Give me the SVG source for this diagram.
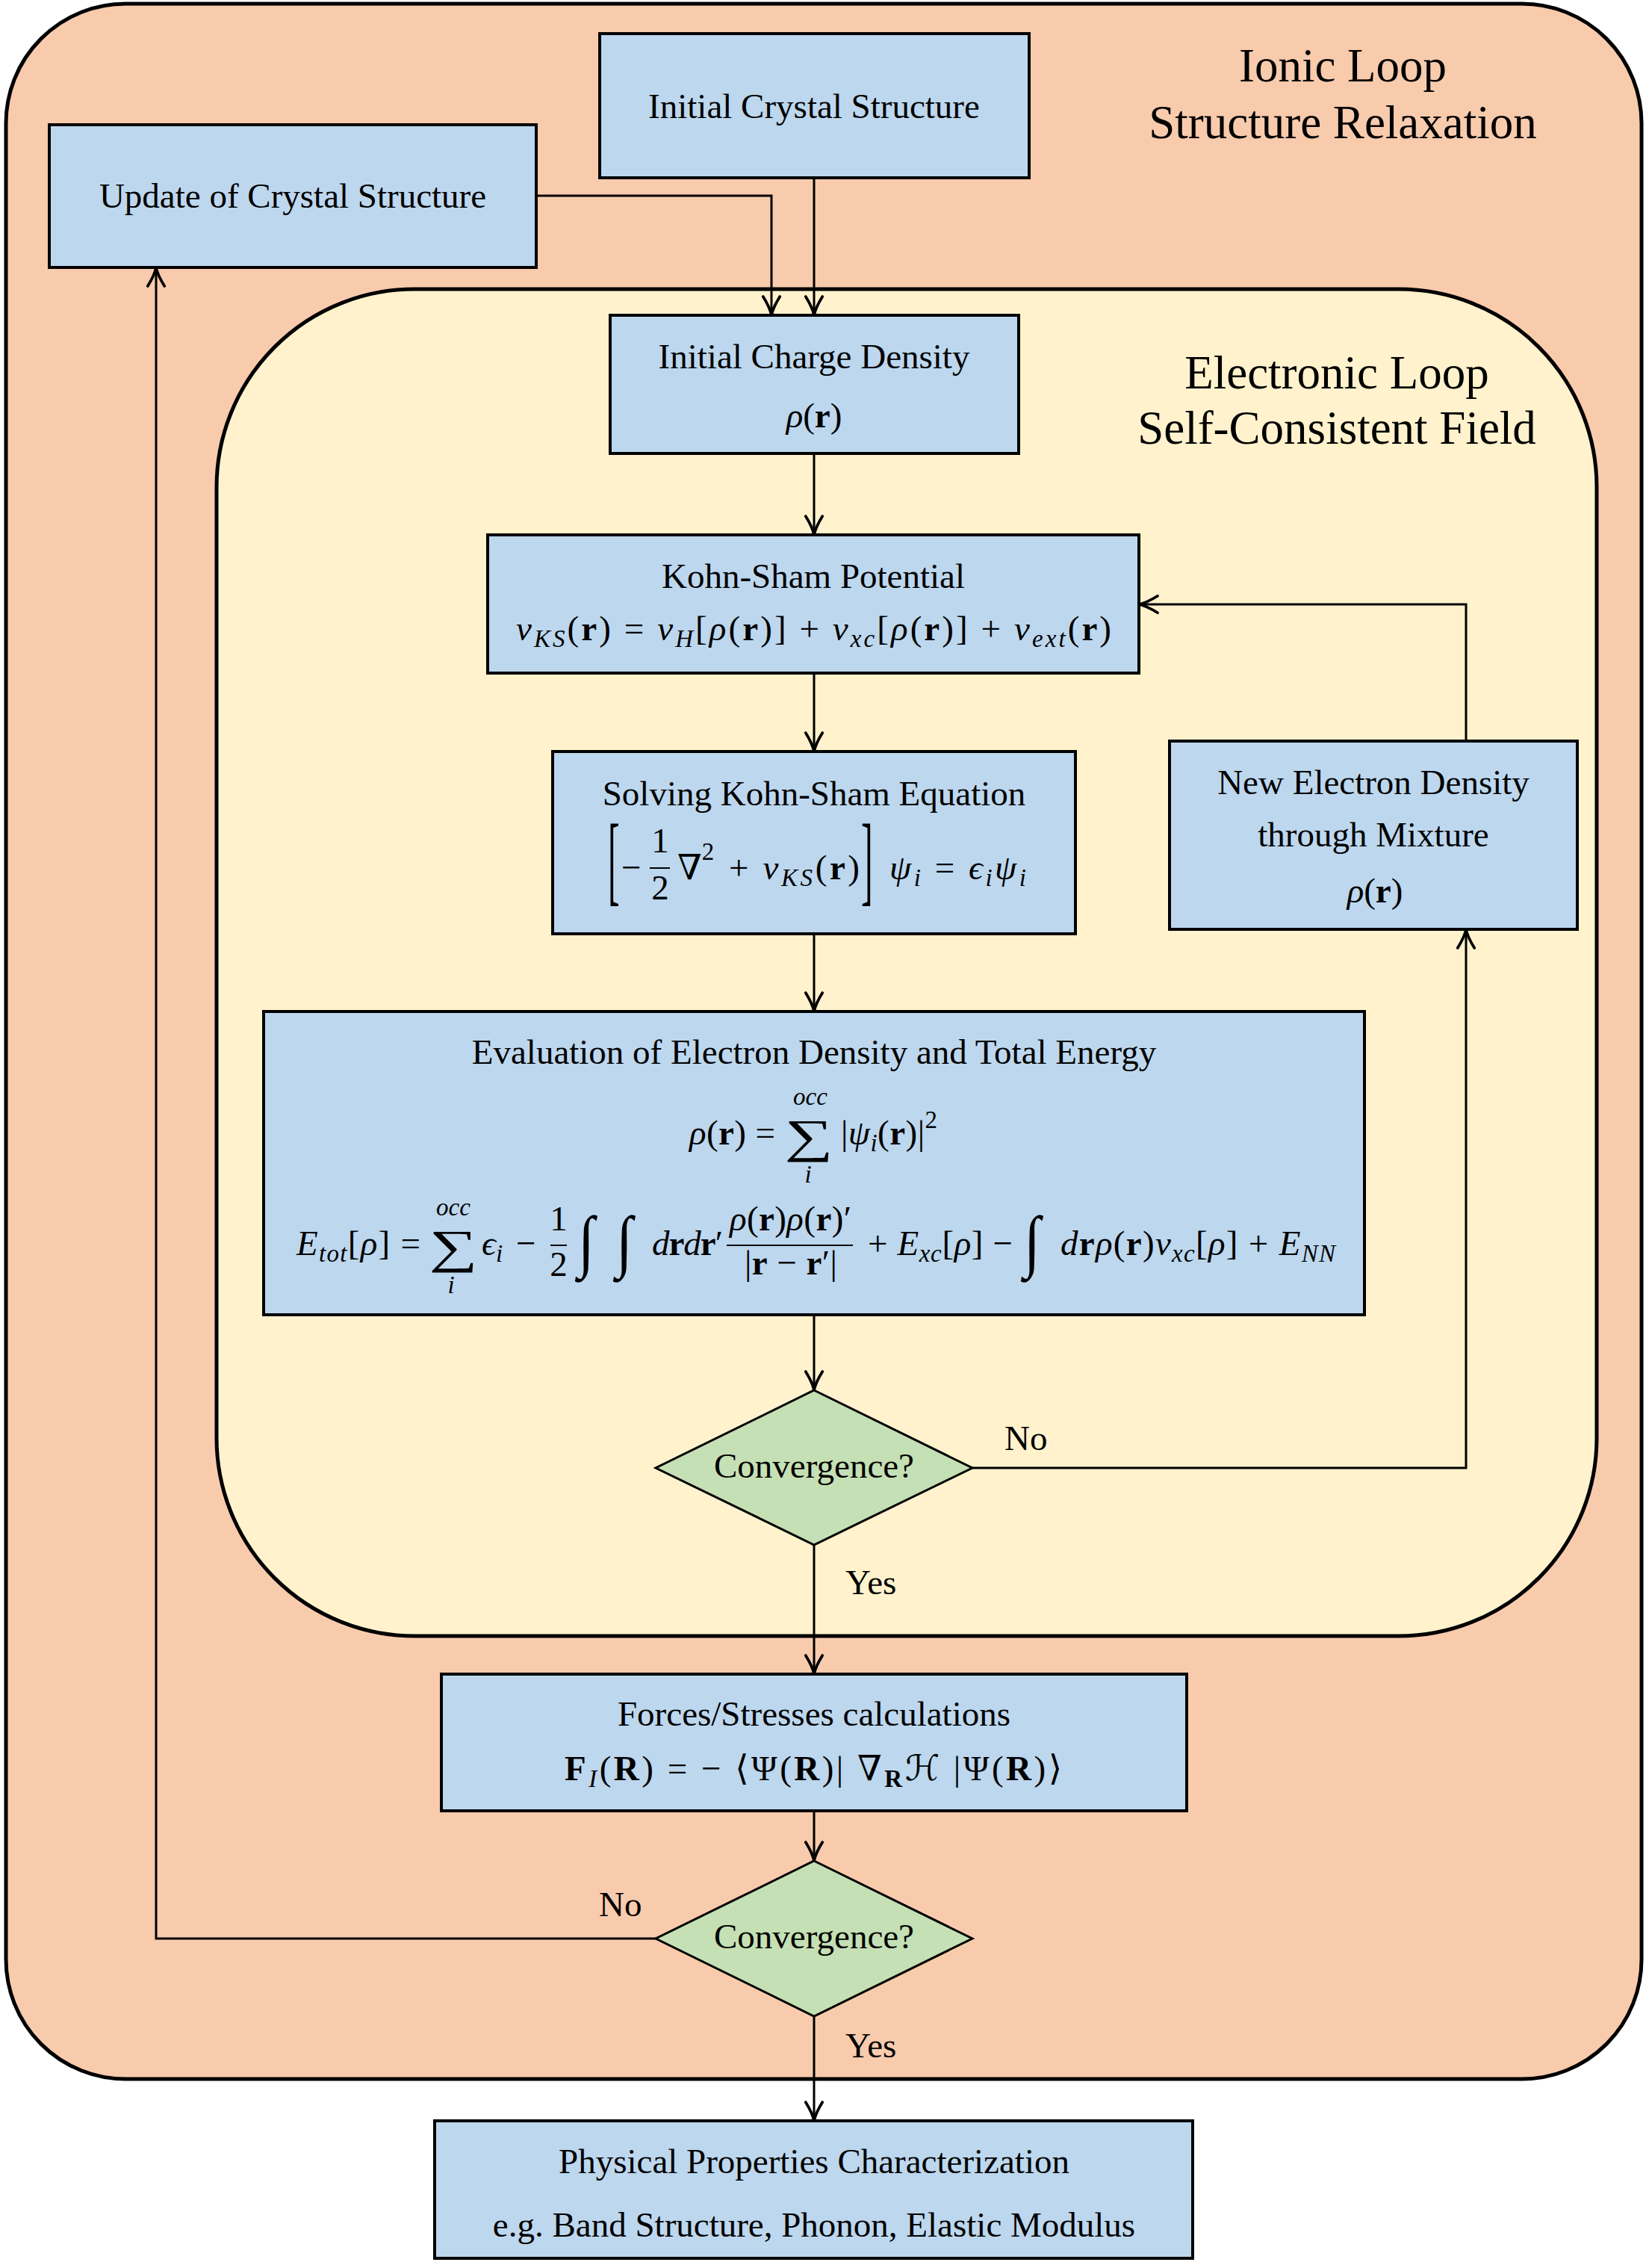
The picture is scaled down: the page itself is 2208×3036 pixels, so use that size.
<svg xmlns="http://www.w3.org/2000/svg" width="2208" height="3036" viewBox="0 0 2208 3036">
<defs>
<style>
.t{font-family:"Liberation Serif","Times New Roman",serif;font-size:47px;fill:#000}
.h{font-size:63px}
.m{font-family:"Liberation Serif","DejaVu Serif","DejaVu Sans",serif;font-size:47px;fill:#000}
.i{font-style:italic}
.b{font-weight:bold}
.s{font-size:33px}
.big{font-size:63px}
.box{fill:#BDD7EE;stroke:#000;stroke-width:4}
.dia{fill:#C5E0B4;stroke:#000;stroke-width:3}
.edge{fill:none;stroke:#000;stroke-width:3}
.rule{stroke:#000;stroke-width:2}
</style>
<marker id="arr" markerUnits="userSpaceOnUse" markerWidth="40" markerHeight="40" viewBox="-26 -16 32 32" refX="0" refY="0" orient="auto">
<path d="M-20,-9 C-12,-4 -5,-1 0,0 C-5,1 -12,4 -20,9" fill="none" stroke="#000" stroke-width="3" stroke-linecap="round"/>
</marker>
</defs>
<rect width="2208" height="3036" fill="#fff"/>

<g id="ionic-loop">
<rect x="8" y="5" width="2190" height="2778" rx="160" ry="160" fill="#F8CBAD" stroke="#000" stroke-width="5"/>
<text class="t h" x="1798" y="109" text-anchor="middle">Ionic Loop</text>
<text class="t h" x="1798" y="185" text-anchor="middle">Structure Relaxation</text>
</g>

<g id="electronic-loop">
<rect x="290" y="387" width="1848" height="1803" rx="265" ry="265" fill="#FFF2CC" stroke="#000" stroke-width="5"/>
<text class="t h" x="1790" y="520" text-anchor="middle">Electronic Loop</text>
<text class="t h" x="1790" y="594" text-anchor="middle">Self-Consistent Field</text>
</g>

<g id="edges">
<path class="edge" d="M1090,238 V422" marker-end="url(#arr)"/>
<path class="edge" d="M718,262 H1033 V422" marker-end="url(#arr)"/>
<path class="edge" d="M1090,607 V716" marker-end="url(#arr)"/>
<path class="edge" d="M1090,901 V1006" marker-end="url(#arr)"/>
<path class="edge" d="M1090,1250 V1354" marker-end="url(#arr)"/>
<path class="edge" d="M1090,1760 V1861" marker-end="url(#arr)"/>
<path class="edge" d="M1302,1965 H1963 V1244" marker-end="url(#arr)"/>
<path class="edge" d="M1963,992 V809 H1525" marker-end="url(#arr)"/>
<path class="edge" d="M1090,2068 V2241" marker-end="url(#arr)"/>
<path class="edge" d="M1090,2424 V2491" marker-end="url(#arr)"/>
<path class="edge" d="M878,2595 H209 V358" marker-end="url(#arr)"/>
<path class="edge" d="M1090,2699 V2839" marker-end="url(#arr)"/>
<text class="t" x="1345" y="1941">No</text>
<text class="t" x="1132" y="2134">Yes</text>
<text class="t" x="802" y="2565">No</text>
<text class="t" x="1132" y="2754">Yes</text>
</g>

<g id="initial-crystal">
<rect class="box" x="803" y="45" width="575" height="193"/>
<text class="t" x="1090" y="158" text-anchor="middle">Initial Crystal Structure</text>
</g>

<g id="update-crystal">
<rect class="box" x="66" y="167" width="652" height="191"/>
<text class="t" x="392" y="278" text-anchor="middle">Update of Crystal Structure</text>
</g>

<g id="initial-charge">
<rect class="box" x="817" y="422" width="547" height="185"/>
<text class="t" x="1090" y="493" text-anchor="middle">Initial Charge Density</text>
<text class="m" x="1090" y="572" text-anchor="middle"><tspan class="i">ρ</tspan>(<tspan class="b">r</tspan>)</text>
</g>

<g id="kohn-sham-potential">
<rect class="box" x="653" y="716" width="872" height="185"/>
<text class="t" x="1089" y="787" text-anchor="middle">Kohn-Sham Potential</text>
<text class="m" x="691" y="857" textLength="797" lengthAdjust="spacing"><tspan class="i">v</tspan><tspan class="i s" dy="9">KS</tspan><tspan dy="-9">(</tspan><tspan class="b">r</tspan>) = <tspan class="i">v</tspan><tspan class="i s" dy="9">H</tspan><tspan dy="-9">[</tspan><tspan class="i">ρ</tspan>(<tspan class="b">r</tspan>)] + <tspan class="i">v</tspan><tspan class="i s" dy="9">xc</tspan><tspan dy="-9">[</tspan><tspan class="i">ρ</tspan>(<tspan class="b">r</tspan>)] + <tspan class="i">v</tspan><tspan class="i s" dy="9">ext</tspan><tspan dy="-9">(</tspan><tspan class="b">r</tspan>)</text>
</g>

<g id="solving-kohn-sham">
<rect class="box" x="740" y="1006" width="700" height="244"/>
<text class="t" x="1090" y="1078" text-anchor="middle">Solving Kohn-Sham Equation</text>
<text class="m" transform="translate(814,1195) scale(1,2.84)">[</text>
<text class="m" x="832" y="1177">−</text>
<text class="m" x="884" y="1141" text-anchor="middle">1</text>
<line class="rule" x1="870" y1="1162" x2="897" y2="1162"/>
<text class="m" x="884" y="1204" text-anchor="middle">2</text>
<text class="m" x="907" y="1177">∇<tspan class="s" dy="-26">2</tspan></text>
<text class="m" x="976" y="1177" textLength="175" lengthAdjust="spacing">+ <tspan class="i">v</tspan><tspan class="i s" dy="9">KS</tspan><tspan dy="-9">(</tspan><tspan class="b">r</tspan>)</text>
<text class="m" transform="translate(1153,1195) scale(1,2.84)">]</text>
<text class="m" x="1191" y="1177" textLength="183" lengthAdjust="spacing"><tspan class="i">ψ</tspan><tspan class="i s" dy="9">i</tspan><tspan dy="-9"> = </tspan><tspan class="i">ϵ</tspan><tspan class="i s" dy="9">i</tspan><tspan class="i" dy="-9">ψ</tspan><tspan class="i s" dy="9">i</tspan></text>
</g>

<g id="new-electron-density">
<rect class="box" x="1566" y="992" width="546" height="252"/>
<text class="t" x="1839" y="1063" text-anchor="middle">New Electron Density</text>
<text class="t" x="1839" y="1133" text-anchor="middle">through Mixture</text>
<text class="m" x="1841" y="1208" text-anchor="middle"><tspan class="i">ρ</tspan>(<tspan class="b">r</tspan>)</text>
</g>

<g id="evaluation">
<rect class="box" x="353" y="1354" width="1474" height="406"/>
<text class="t" x="1090" y="1424" text-anchor="middle">Evaluation of Electron Density and Total Energy</text>
<text class="m" x="923" y="1532" textLength="115" lengthAdjust="spacing"><tspan class="i">ρ</tspan>(<tspan class="b">r</tspan>) =</text>
<text class="m big" transform="translate(1083,1542) scale(1.45,1)" text-anchor="middle">∑</text>
<text class="m i s" x="1085" y="1479" text-anchor="middle">occ</text>
<text class="m i s" x="1082" y="1583" text-anchor="middle">i</text>
<text class="m" x="1126" y="1532" textLength="129" lengthAdjust="spacing">|<tspan class="i">ψ</tspan><tspan class="i s" dy="9">i</tspan><tspan dy="-9">(</tspan><tspan class="b">r</tspan>)|<tspan class="s" dy="-22">2</tspan></text>

<text class="m" x="397" y="1680" textLength="166" lengthAdjust="spacing"><tspan class="i">E</tspan><tspan class="i s" dy="9">tot</tspan><tspan dy="-9">[</tspan><tspan class="i">ρ</tspan>] =</text>
<text class="m big" transform="translate(607,1690) scale(1.45,1)" text-anchor="middle">∑</text>
<text class="m i s" x="607" y="1627" text-anchor="middle">occ</text>
<text class="m i s" x="604" y="1731" text-anchor="middle">i</text>
<text class="m" x="645" y="1680"><tspan class="i">ϵ</tspan><tspan class="i s" dy="9">i</tspan></text>
<text class="m" x="691" y="1680">−</text>
<text class="m" x="748" y="1647" text-anchor="middle">1</text>
<line class="rule" x1="737" y1="1667" x2="759" y2="1667"/>
<text class="m" x="748" y="1708" text-anchor="middle">2</text>
<text class="m" transform="translate(774,1692) scale(1.7,1.96)">∫</text>
<text class="m" transform="translate(825,1692) scale(1.7,1.96)">∫</text>
<text class="m" x="873" y="1680" textLength="95" lengthAdjust="spacing"><tspan class="i">d</tspan><tspan class="b">r</tspan><tspan class="i">d</tspan><tspan class="b">r</tspan>′</text>
<text class="m" x="977" y="1647" textLength="163" lengthAdjust="spacing"><tspan class="i">ρ</tspan>(<tspan class="b">r</tspan>)<tspan class="i">ρ</tspan>(<tspan class="b">r</tspan>)′</text>
<line class="rule" x1="973" y1="1667" x2="1142" y2="1667"/>
<text class="m" x="997" y="1706" textLength="124" lengthAdjust="spacing">|<tspan class="b">r</tspan> − <tspan class="b">r</tspan>′|</text>
<text class="m" x="1162" y="1680" textLength="194" lengthAdjust="spacing">+ <tspan class="i">E</tspan><tspan class="i s" dy="9">xc</tspan><tspan dy="-9">[</tspan><tspan class="i">ρ</tspan>] −</text>
<text class="m" transform="translate(1371,1692) scale(1.7,1.96)">∫</text>
<text class="m" x="1420" y="1680" textLength="368" lengthAdjust="spacing"><tspan class="i">d</tspan><tspan class="b">r</tspan><tspan class="i">ρ</tspan>(<tspan class="b">r</tspan>)<tspan class="i">v</tspan><tspan class="i s" dy="9">xc</tspan><tspan dy="-9">[</tspan><tspan class="i">ρ</tspan>] + <tspan class="i">E</tspan><tspan class="i s" dy="9">NN</tspan></text>
</g>

<g id="convergence-scf">
<polygon class="dia" points="1090,1861 1302,1965 1090,2068 878,1965"/>
<text class="t" x="1090" y="1978" text-anchor="middle">Convergence?</text>
</g>

<g id="forces">
<rect class="box" x="591" y="2241" width="998" height="183"/>
<text class="t" x="1090" y="2310" text-anchor="middle">Forces/Stresses calculations</text>
<text class="m" x="756" y="2383" textLength="666" lengthAdjust="spacing"><tspan class="b">F</tspan><tspan class="i s" dy="9">I</tspan><tspan dy="-9">(</tspan><tspan class="b">R</tspan>) = − ⟨Ψ(<tspan class="b">R</tspan>)| ∇<tspan class="b s" dy="9">R</tspan><tspan class="i" dy="-9">ℋ</tspan> |Ψ(<tspan class="b">R</tspan>)⟩</text>
</g>

<g id="convergence-ionic">
<polygon class="dia" points="1090,2491 1302,2595 1090,2699 878,2595"/>
<text class="t" x="1090" y="2608" text-anchor="middle">Convergence?</text>
</g>

<g id="physical-properties">
<rect class="box" x="582" y="2839" width="1015" height="184"/>
<text class="t" x="1090" y="2909" text-anchor="middle">Physical Properties Characterization</text>
<text class="t" x="1090" y="2994" text-anchor="middle">e.g. Band Structure, Phonon, Elastic Modulus</text>
</g>
</svg>
